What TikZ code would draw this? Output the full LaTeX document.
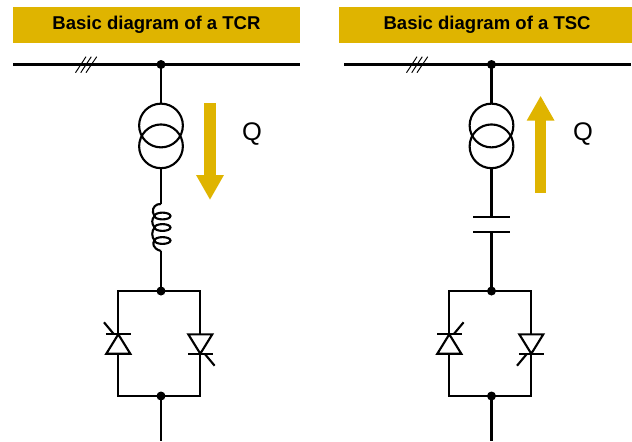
\documentclass[tikz,border=0pt]{standalone}
\usepackage{fontspec}
\setmainfont{Liberation Sans}
\usetikzlibrary{arrows.meta}
\definecolor{tcrgold}{HTML}{DFB400}
\tikzset{
    wire/.style={draw=black,line width=1.2pt},
    hatch/.style={draw=black,line width=0.55pt},
    header/.style={fill=tcrgold,minimum height=0.72cm,inner sep=0pt,font=\bfseries\fontsize{10.55}{12}\selectfont},
    winding/.style={circle,draw=black,line width=1.2pt,minimum size=0.875cm,inner sep=0pt,outer sep=0pt},
    junction/.style={circle,fill=black,minimum size=0.18cm,inner sep=0pt,outer sep=0pt},
    qlabel/.style={inner sep=0pt,font=\fontsize{14.5}{16}\selectfont},
    qflow/.style={-{Triangle[length=0.5cm,width=0.52cm]},draw=tcrgold,line width=0.234cm},
    thyristor/.pic={
        \draw[wire,line join=miter] (-12,9.7) -- (12,9.7) -- (0,-9.7) -- cycle;
        \draw[wire] (-12.5,-9.7) -- (12.5,-9.7);
        \draw[wire] (-4.3,-9.7) -- (-14.3,-21.7);
        \coordinate (-a) at (0,9.7);
        \coordinate (-k) at (0,-9.7);
    },
    reactor/.pic={
        \draw[wire] (0,-23.5) .. controls (-5,-24) and (-9,-20) .. (-8,-15) .. controls (-7.7,-13.5) and (-7.3,-12.5) .. (-6.5,-11.5)
            .. controls (-9.5,-8) and (-9.5,-4) .. (-6.5,0)
            .. controls (-9.5,4) and (-9.5,9) .. (-6.5,13)
            .. controls (-8.5,15) and (-9,21) .. (0,23.5);
        \draw[wire] (1.5,-11.5) ellipse (8 and 3.4);
        \draw[wire] (1.5,0) ellipse (8 and 3.4);
        \draw[wire] (1.5,13) ellipse (8 and 3.4);
        \coordinate (-top) at (0,-23.5);
        \coordinate (-bot) at (0,23.5);
    },
}
\begin{document}
\begin{tikzpicture}[x=0.02cm,y=-0.02cm]
\useasboundingbox (0,0) rectangle (632,441);
% TCR
\node[header,minimum width=5.74cm] (tcrhead) at (156.5,25) {Basic diagram of a TCR};
\coordinate (tcrbusl) at (13,64.5);
\coordinate (tcrbusr) at (300,64.5);
\node[junction] (tcrtap) at (161,64.5) {};
\draw[wire] (tcrbusl) -- (tcrbusr);
\draw[hatch] (75.5,72.7) -- (86,56.7);
\draw[hatch] (80.7,72.7) -- (91.3,56.7);
\draw[hatch] (86,72.7) -- (96.7,56.7);
\node[winding] (tcrprim) at (161,125.5) {};
\node[winding] (tcrsec) at (161,146.3) {};
\draw[wire] (tcrtap.center) -- (tcrprim.north);
\pic (tcrcoil) at (161,227.5) {reactor};
\draw[wire] (tcrsec.south) -- (tcrcoil-top);
\node[junction] (tcrtop) at (161,291) {};
\node[junction] (tcrbot) at (161,396) {};
\coordinate (tcrout) at (161,441);
\draw[wire] (tcrcoil-bot) -- (tcrtop.center);
\draw[wire] (tcrbot.center) -- (tcrout);
\pic (tcrthyl) at (118.3,344) {thyristor};
\pic[rotate=180] (tcrthyr) at (200.3,344) {thyristor};
\draw[wire,line join=miter] (tcrthyl-k) |- (tcrtop.center) -| (tcrthyr-a);
\draw[wire,line join=miter] (tcrthyl-a) |- (tcrbot.center) -| (tcrthyr-k);
\coordinate (tcrqs) at (210,103);
\coordinate (tcrqe) at (210,200);
\draw[qflow] (tcrqs) -- (tcrqe);
\node[qlabel] (tcrq) at (252,134) {Q};
% TSC
\node[header,minimum width=5.86cm] (tschead) at (485.6,25) {\hspace*{0.06cm}Basic diagram of a TSC};
\coordinate (tscbusl) at (344,64.5);
\coordinate (tscbusr) at (631,64.5);
\node[junction] (tsctap) at (491.5,64.5) {};
\draw[wire] (tscbusl) -- (tscbusr);
\draw[hatch] (406.5,72.7) -- (417,56.7);
\draw[hatch] (411.7,72.7) -- (422.3,56.7);
\draw[hatch] (417,72.7) -- (427.7,56.7);
\node[winding] (tscprim) at (491.5,125.5) {};
\node[winding] (tscsec) at (491.5,146.3) {};
\draw[wire] (tsctap.center) -- (tscprim.north);
\node[inner sep=0pt,minimum width=0.71cm,minimum height=0pt] (tscplatea) at (491.5,217) {};
\node[inner sep=0pt,minimum width=0.71cm,minimum height=0pt] (tscplateb) at (491.5,231.7) {};
\draw[wire] (tscplatea.west) -- (tscplatea.east);
\draw[wire] (tscplateb.west) -- (tscplateb.east);
\draw[wire] (tscsec.south) -- (tscplatea.center);
\node[junction] (tsctop) at (491.5,291) {};
\node[junction] (tscbot) at (491.5,396) {};
\coordinate (tscout) at (491.5,441);
\draw[wire] (tscplateb.center) -- (tsctop.center);
\draw[wire] (tscbot.center) -- (tscout);
\pic[xscale=-1] (tscthyl) at (449.3,344) {thyristor};
\pic[rotate=180,xscale=-1] (tscthyr) at (531.3,344) {thyristor};
\draw[wire,line join=miter] (tscthyl-k) |- (tsctop.center) -| (tscthyr-a);
\draw[wire,line join=miter] (tscthyl-a) |- (tscbot.center) -| (tscthyr-k);
\coordinate (tscqs) at (540.6,192.7);
\coordinate (tscqe) at (540.6,95.7);
\draw[qflow] (tscqs) -- (tscqe);
\node[qlabel] (tscq) at (583,134) {Q};
\end{tikzpicture}
\end{document}
